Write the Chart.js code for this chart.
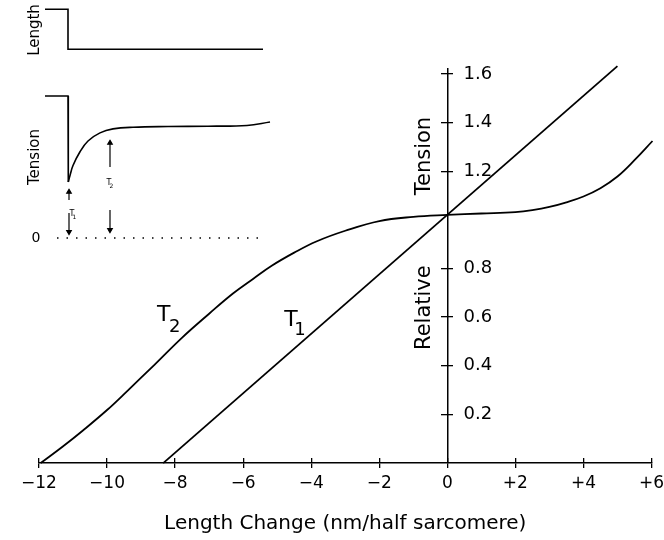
<!DOCTYPE html>
<html>
<head>
<meta charset="utf-8">
<script src="https://cdn.jsdelivr.net/npm/chart.js@4.4.1/dist/chart.umd.min.js"></script>
<style>
body{margin:0;background:#fff}
#wrap{position:relative;width:664px;height:540px}
#main{position:absolute;left:0;top:0;width:664px;height:540px}
#inset{position:absolute;left:0;top:0;width:300px;height:250px}
</style>
</head>
<body>
<div id="wrap">
<div id="main"><canvas id="mainChart"></canvas></div>
<div id="inset"><canvas id="insetChart"></canvas></div>
</div>
<script>
// main plot
var xTickValues = [-12, -10, -8, -6, -4, -2, 0, 2, 4, 6];
var xTickLabels = ['\u221212', '\u221210', '\u22128', '\u22126', '\u22124', '\u22122', '0', '+2', '+4', '+6'];
var yTickValues = [0.2, 0.4, 0.6, 0.8, 1.2, 1.4, 1.6];
var yTickLabels = ['0.2', '0.4', '0.6', '0.8', '1.2', '1.4', '1.6'];

var t1X = [-8.35, 5.0];
var t1Y = [0, 1.632];

var t2X = [-11.95, -11.3, -10.7, -10.0, -9.4, -8.6, -7.8, -7.0, -6.3, -5.7, -5.15, -4.5, -3.85, -3.0, -2.0, -1.0, 0, 1.0, 2.0, 2.5, 3.0, 3.5, 4.0, 4.5, 5.0, 5.5, 6.03];
var t2Y = [0, 0.068, 0.135, 0.218, 0.297, 0.405, 0.515, 0.614, 0.697, 0.758, 0.812, 0.865, 0.911, 0.955, 0.995, 1.012, 1.02, 1.026, 1.032, 1.04, 1.053, 1.072, 1.096, 1.13, 1.178, 1.245, 1.324];

// inset records (time in ms, relative units)
var lenTime = [-2.3, 0, 0, 19.5];
var lenValue = [0, 0, -1, -1];
var stepTime = [-2.3, 0, 0.03];
var stepValue = [1, 1, 0.394];
var recTime = [0.03, 0.2, 0.5, 1.2, 2.0, 3.2, 4.5, 6.5, 10, 14, 17.9, 20.2];
var recValue = [0.394, 0.44, 0.51, 0.607, 0.683, 0.74, 0.768, 0.78, 0.785, 0.787, 0.792, 0.817];
var zeroTime = [-1.1, 19.2];
var arrowTime = [0.1, 0.1, 4.2, 4.2];
var arrowFrom = [0.268, 0.176, 0.5, 0.197];
var arrowTo = [0.324, 0.042, 0.669, 0.056];
var arrowUp = [true, false, true, false];

Chart.defaults.font.family = '"DejaVu Sans", sans-serif';
Chart.defaults.color = '#000';

function pts(xs, ys) {
    return xs.map(function (x, i) { return {x: x, y: ys[i]}; });
}
function setTicks(vals) {
    return function (axis) { axis.ticks = vals.map(function (v) { return {value: v}; }); };
}

var mainLabels = {
    id: 'mainLabels',
    afterDraw: function (chart) {
        var c = chart.ctx, sx = chart.scales.x, sy = chart.scales.y;
        c.save();
        c.fillStyle = '#000';
        c.textBaseline = 'alphabetic';
        c.textAlign = 'left';
        c.font = '22px "DejaVu Sans"';
        c.fillText('T', sx.getPixelForValue(-8.53), sy.getPixelForValue(0.586));
        c.fillText('T', sx.getPixelForValue(-4.79), sy.getPixelForValue(0.565));
        c.font = '18px "DejaVu Sans"';
        c.fillText('2', sx.getPixelForValue(-8.18), sy.getPixelForValue(0.54));
        c.fillText('1', sx.getPixelForValue(-4.5), sy.getPixelForValue(0.528));
        c.font = '21px "DejaVu Sans"';
        c.textAlign = 'center';
        c.textBaseline = 'middle';
        [['Tension', 1.262], ['Relative', 0.639]].forEach(function (t) {
            c.save();
            c.translate(sx.getPixelForValue(-0.66), sy.getPixelForValue(t[1]));
            c.rotate(-Math.PI / 2);
            c.fillText(t[0], 0, 0);
            c.restore();
        });
        c.restore();
    }
};

var axisLine = {color: '#000', width: 1.5};
var tickGrid = function (len) {
    return {drawOnChartArea: false, tickLength: len, color: '#000', lineWidth: 1.3};
};

new Chart(document.getElementById('mainChart'), {
    type: 'line',
    data: {
        datasets: [
            {
                label: 'T1',
                data: pts(t1X, t1Y),
                borderColor: '#000',
                borderWidth: 1.8,
                pointRadius: 0,
                clip: false
            },
            {
                label: 'T2',
                data: pts(t2X, t2Y),
                borderColor: '#000',
                borderWidth: 1.8,
                pointRadius: 0,
                tension: 0.4,
                clip: false
            }
        ]
    },
    options: {
        responsive: true,
        maintainAspectRatio: false,
        animation: false,
        layout: {autoPadding: false, padding: {left: 39, right: 8, top: 69, bottom: 0}},
        plugins: {legend: {display: false}, tooltip: {enabled: false}},
        scales: {
            x: {
                type: 'linear', position: 'bottom', min: -12, max: 6,
                afterBuildTicks: setTicks(xTickValues),
                ticks: {font: {size: 17, lineHeight: 1.82}, padding: 0, maxRotation: 0, autoSkip: false,
                    callback: function (v, i) { return xTickLabels[i]; }},
                grid: tickGrid(5),
                border: axisLine,
                title: {display: true, text: 'Length Change (nm/half sarcomere)', font: {size: 20},
                    padding: {top: 13, bottom: 4}}
            },
            // upper half of the crossing x ticks
            xUp: {
                type: 'linear', position: {y: 0.021}, min: -12, max: 6,
                afterBuildTicks: setTicks(xTickValues),
                ticks: {display: false},
                grid: tickGrid(5),
                border: {display: false}
            },
            y: {
                type: 'linear', position: {x: 0}, min: 0, max: 1.62,
                afterBuildTicks: setTicks(yTickValues),
                ticks: {display: false},
                grid: tickGrid(6),
                border: axisLine
            },
            // right half of the crossing y ticks
            yR: {
                type: 'linear', position: {x: 0.18}, min: 0, max: 1.62,
                afterBuildTicks: setTicks(yTickValues),
                ticks: {display: false},
                grid: tickGrid(6),
                border: {display: false}
            },
            yLab: {
                type: 'linear', position: {x: 1.32}, min: 0, max: 1.62,
                afterBuildTicks: setTicks(yTickValues),
                ticks: {font: {size: 18}, padding: 0,
                    callback: function (v, i) { return yTickLabels[i]; }},
                grid: {display: false, drawTicks: false},
                border: {display: false}
            }
        }
    },
    plugins: [mainLabels]
});

// inset
var insetLabels = {
    id: 'insetLabels',
    afterDraw: function (chart) {
        var c = chart.ctx, sx = chart.scales.x, sT = chart.scales.yT, sL = chart.scales.yL;
        c.save();
        c.fillStyle = '#000';
        c.textAlign = 'center';
        c.textBaseline = 'middle';
        c.font = '15px "DejaVu Sans"';
        [['Length', sL.getPixelForValue(-0.52)], ['Tension', sT.getPixelForValue(0.57)]].forEach(function (t) {
            c.save();
            c.translate(sx.getPixelForValue(-3.3), t[1]);
            c.rotate(-Math.PI / 2);
            c.fillText(t[0], 0, 0);
            c.restore();
        });
        c.font = '14px "DejaVu Sans"';
        c.fillText('0', sx.getPixelForValue(-3.2), sT.getPixelForValue(0));
        c.font = '8px "DejaVu Sans"';
        c.fillText('T', sx.getPixelForValue(0.4), sT.getPixelForValue(0.17));
        c.fillText('T', sx.getPixelForValue(4.1), sT.getPixelForValue(0.385));
        c.font = '6px "DejaVu Sans"';
        c.fillText('1', sx.getPixelForValue(0.65), sT.getPixelForValue(0.145));
        c.fillText('2', sx.getPixelForValue(4.35), sT.getPixelForValue(0.36));
        c.restore();
    }
};

var insetSets = [
    {data: pts(lenTime, lenValue), yAxisID: 'yL', borderWidth: 1.6},
    {data: pts(stepTime, stepValue), yAxisID: 'yT', borderWidth: 1.6},
    {data: pts(recTime, recValue), yAxisID: 'yT', borderWidth: 1.6, tension: 0.4},
    {data: pts(zeroTime, [0, 0]), yAxisID: 'yT', borderWidth: 1.6, borderDash: [1.5, 8]}
];
arrowTime.forEach(function (t, i) {
    insetSets.push({
        data: [{x: t, y: arrowFrom[i]}, {x: t, y: arrowTo[i]}],
        yAxisID: 'yT',
        borderWidth: 1.2,
        pointRadius: [0, 2.6],
        pointStyle: 'triangle',
        rotation: arrowUp[i] ? 0 : 180,
        backgroundColor: '#000'
    });
});
insetSets.forEach(function (d) {
    d.borderColor = '#000';
    if (d.pointRadius === undefined) d.pointRadius = 0;
    d.clip = false;
});

new Chart(document.getElementById('insetChart'), {
    type: 'line',
    data: {datasets: insetSets},
    options: {
        responsive: true,
        maintainAspectRatio: false,
        animation: false,
        layout: {autoPadding: false, padding: 0},
        plugins: {legend: {display: false}, tooltip: {enabled: false}},
        scales: {
            x: {type: 'linear', display: false, min: -6.8, max: 23.2},
            yT: {type: 'linear', display: false, min: -0.085, max: 1.676},
            yL: {type: 'linear', display: false, min: -6.02, max: 0.23}
        }
    },
    plugins: [insetLabels]
});
</script>
</body>
</html>
